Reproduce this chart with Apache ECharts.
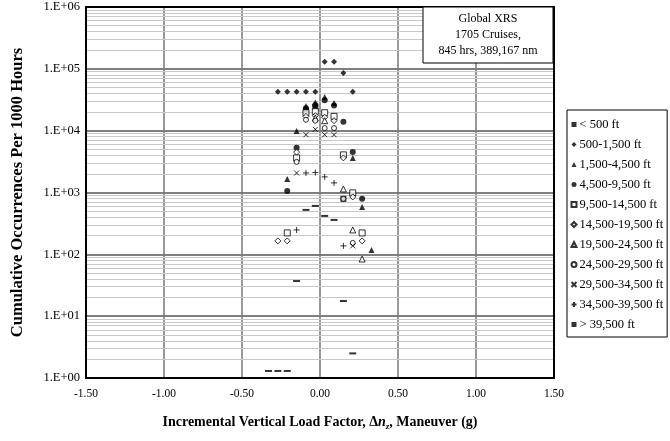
<!DOCTYPE html>
<html><head><meta charset="utf-8">
<script src="https://cdn.jsdelivr.net/npm/echarts@6/dist/echarts.min.js"></script>
<style>html,body{margin:0;padding:0;background:#fff}#c{width:670px;height:441px}</style>
</head><body><div id="c"></div>
<script>
// ---- data (x = incremental vertical load factor, y = cumulative occurrences per 1000 hr)
const seriesNames = ['< 500 ft','500-1,500 ft','1,500-4,500 ft','4,500-9,500 ft','9,500-14,500 ft','14,500-19,500 ft','19,500-24,500 ft','24,500-29,500 ft','29,500-34,500 ft','34,500-39,500 ft','> 39,500 ft'];
const alt0 = [[-0.09,21000],[-0.03,24000],[0.15,790]];
const alt1 = [[-0.27,42500],[-0.21,42500],[-0.15,42500],[-0.09,42500],[-0.03,42500],[0.03,130000],[0.09,130000],[0.15,86000],[0.21,42500]];
const alt2 = [[-0.21,1660],[-0.15,9900],[-0.09,25000],[-0.03,28500],[0.03,35000],[0.09,28000],[0.21,3630],[0.27,585],[0.33,118]];
const alt3 = [[-0.21,1060],[-0.15,5300],[-0.09,23000],[-0.03,26000],[0.03,31000],[0.09,25500],[0.15,14000],[0.21,4500],[0.27,790]];
const alt4 = [[-0.21,222],[-0.15,3630],[-0.09,19500],[-0.03,20500],[0.03,19500],[0.09,17000],[0.15,4060],[0.21,986],[0.27,222]];
const alt5 = [[-0.27,165],[-0.21,165],[-0.15,4500],[-0.09,17000],[-0.03,17500],[0.03,16500],[0.09,14500],[0.15,3630],[0.21,849],[0.27,165]];
const alt6 = [[-0.03,16000],[0.03,14500],[0.15,1140],[0.21,248],[0.27,84]];
const alt7 = [[-0.15,3130],[-0.09,15000],[-0.03,14500],[0.03,11000],[0.09,11000],[0.15,790],[0.21,153]];
const alt8 = [[-0.15,2070],[-0.09,8600],[-0.03,10500],[0.03,8600],[0.09,8600],[0.21,137]];
const alt9 = [[-0.15,248],[-0.09,2070],[-0.03,2100],[0.03,1790],[0.09,1430],[0.15,137]];
const alt10 = [[-0.33,1.3],[-0.27,1.3],[-0.21,1.3],[-0.15,37],[-0.09,523],[-0.03,607],[0.03,418],[0.09,360],[0.15,17.6],[0.21,2.5]];
const allData = [alt0,alt1,alt2,alt3,alt4,alt5,alt6,alt7,alt8,alt9,alt10];
const xTicks = [-1.5,-1.0,-0.5,0,0.5,1.0,1.5];
const decades = [0,1,2,3,4,5,6];
const boxLines = ['Global XRS','1705 Cruises,','845 hrs, 389,167 nm'];

// ---- styles
const FONT = '"Liberation Serif","Times New Roman",serif';
const filled = {color:'#000', borderColor:'#000', borderWidth:0};
const open = {color:'#fff', borderColor:'#000', borderWidth:1};
const stroke = {color:'none', borderColor:'#000', borderWidth:1};
const markerDefs = [
  {symbol:'rect', size:6, style:filled},
  {symbol:'diamond', size:6, style:filled},
  {symbol:'triangle', size:6, style:filled},
  {symbol:'circle', size:6, style:filled},
  {symbol:'rect', size:6, style:open},
  {symbol:'diamond', size:6, style:open},
  {symbol:'triangle', size:6, style:open},
  {symbol:'circle', size:5, style:open},
  {symbol:'path://M0,0L10,10M10,0L0,10', size:5, style:stroke},
  {symbol:'path://M5,0L5,10M0,5L10,5', size:6, style:stroke},
  {symbol:'rect', size:[7,2], style:filled}
];

const minorVals = [];
for (let d = 0; d < 6; d++) for (let m = 2; m <= 9; m++) minorVals.push(m * Math.pow(10, d));

const series = [{
  type:'scatter', name:'_grid', data:[], z:1, silent:true,
  markLine:{silent:true, symbol:['none','none'], label:{show:false},
    lineStyle:{color:'#c8c8c8', width:1, type:'solid'},
    emphasis:{disabled:true},
    data: minorVals.map(v => ({yAxis:v}))}
}];
allData.forEach((d,i) => {
  const m = markerDefs[i];
  series.push({
    type:'scatter', name:seriesNames[i], data:d, z:5,
    symbol:m.symbol, symbolSize:m.size, itemStyle:m.style
  });
});

const chart = echarts.init(document.getElementById('c'), null, {renderer:'canvas'});
chart.setOption({
  animation:false,
  backgroundColor:'#fff',
  grid:{left:86, top:7, width:468, height:371, show:false},
  xAxis:{type:'value', min:xTicks[0], max:xTicks[xTicks.length-1], interval:0.5, z:2,
    axisLine:{show:false}, axisTick:{show:false},
    axisLabel:{formatter:v=>v.toFixed(2), fontFamily:FONT, fontSize:11.5, color:'#000', margin:10},
    splitLine:{show:true, lineStyle:{color:'#777', width:1.5}},
    name:'{b|Incremental Vertical Load Factor, Δ}{i|n}{s|z}{b|, Maneuver (g)}',
    nameLocation:'middle', nameGap:36,
    nameTextStyle:{rich:{
      b:{fontFamily:FONT, fontSize:14, fontWeight:'bold', color:'#000'},
      i:{fontFamily:FONT, fontSize:14, fontWeight:'bold', fontStyle:'italic', color:'#000'},
      s:{fontFamily:FONT, fontSize:9, fontWeight:'bold', fontStyle:'italic', color:'#000', padding:[8,0,0,0]}
    }}
  },
  yAxis:{type:'log', logBase:10, min:Math.pow(10,decades[0]), max:Math.pow(10,decades[decades.length-1]), z:2,
    axisLine:{show:false}, axisTick:{show:false},
    axisLabel:{formatter:v=>'1.E+'+String(Math.round(Math.log10(v))).padStart(2,'0'), fontFamily:FONT, fontSize:12.5, color:'#000', margin:6},
    splitLine:{show:true, lineStyle:{color:'#555', width:1.5}},
    minorSplitLine:{show:false},
    name:'Cumulative Occurrences Per 1000 Hours', nameLocation:'middle', nameGap:60,
    nameTextStyle:{fontFamily:FONT, fontSize:16.5, fontWeight:'bold', color:'#000'}
  },
  legend:{orient:'vertical', left:567, top:110, data:seriesNames,
    itemWidth:5, itemHeight:5, itemGap:7, padding:[8,4,6,2],
    backgroundColor:'#fff', borderColor:'#000', borderWidth:1,
    textStyle:{fontFamily:FONT, fontSize:12.5, color:'#000', lineHeight:13, padding:[0,0,0,-2]},
    selectedMode:false},
  graphic:[
    {type:'rect', z:100, shape:{x:86, y:7, width:468, height:371}, style:{fill:'none', stroke:'#000', lineWidth:2}, silent:true},
    {type:'rect', z:100, shape:{x:423, y:7, width:130, height:56}, style:{fill:'#fff', stroke:'#000', lineWidth:1}, silent:true},
    {type:'text', z:101, x:488, y:11, style:{text:boxLines.join('\n'), textAlign:'center', font:'12px '+FONT, fill:'#000', lineHeight:16}, silent:true}
  ],
  series:series
});
</script></body></html>
